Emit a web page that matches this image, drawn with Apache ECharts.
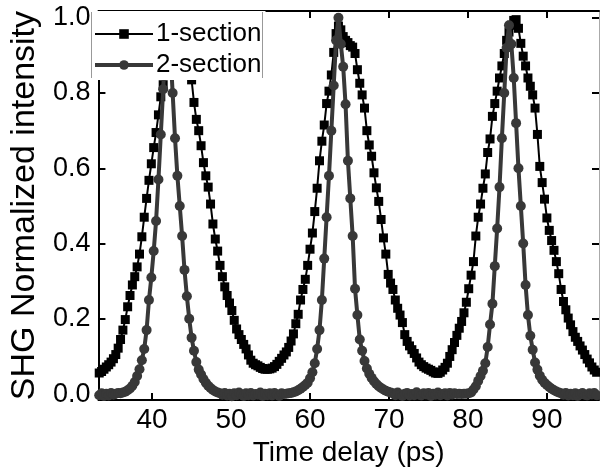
<!DOCTYPE html>
<html>
<head>
<meta charset="utf-8">
<script src="https://cdn.jsdelivr.net/npm/echarts@6/dist/echarts.min.js"></script>
<style>
html,body{margin:0;padding:0;background:#fff;}
#chart{width:600px;height:472px;}
</style>
</head>
<body>
<div id="chart"></div>
<script>
// Time delay (ps)
const timeDelay = [
33.3,33.6,33.9,34.2,34.5,34.8,35.1,35.4,35.7,36.0,
36.3,36.6,36.9,37.2,37.5,37.8,38.1,38.4,38.7,39.0,
39.3,39.6,39.9,40.2,40.5,40.8,41.1,41.4,41.7,42.0,
42.3,42.6,42.9,43.2,43.5,43.8,44.1,44.4,44.7,45.0,
45.3,45.6,45.9,46.2,46.5,46.8,47.1,47.4,47.7,48.0,
48.3,48.6,48.9,49.2,49.5,49.8,50.1,50.4,50.7,51.0,
51.3,51.6,51.9,52.2,52.5,52.8,53.1,53.4,53.7,54.0,
54.3,54.6,54.9,55.2,55.5,55.8,56.1,56.4,56.7,57.0,
57.3,57.6,57.9,58.2,58.5,58.8,59.1,59.4,59.7,60.0,
60.3,60.6,60.9,61.2,61.5,61.8,62.1,62.4,62.7,63.0,
63.3,63.6,63.9,64.2,64.5,64.8,65.1,65.4,65.7,66.0,
66.3,66.6,66.9,67.2,67.5,67.8,68.1,68.4,68.7,69.0,
69.3,69.6,69.9,70.2,70.5,70.8,71.1,71.4,71.7,72.0,
72.3,72.6,72.9,73.2,73.5,73.8,74.1,74.4,74.7,75.0,
75.3,75.6,75.9,76.2,76.5,76.8,77.1,77.4,77.7,78.0,
78.3,78.6,78.9,79.2,79.5,79.8,80.1,80.4,80.7,81.0,
81.3,81.6,81.9,82.2,82.5,82.8,83.1,83.4,83.7,84.0,
84.3,84.6,84.9,85.2,85.5,85.8,86.1,86.4,86.7,87.0,
87.3,87.6,87.9,88.2,88.5,88.8,89.1,89.4,89.7,90.0,
90.3,90.6,90.9,91.2,91.5,91.8,92.1,92.4,92.7,93.0,
93.3,93.6,93.9,94.2,94.5,94.8,95.1,95.4,95.7,96.0,
96.3
];

// 1-section SHG normalized intensity
const oneSection = [
0.056,0.060,0.066,0.072,0.078,0.085,0.094,0.105,0.122,0.145,
0.170,0.198,0.232,0.262,0.290,0.312,0.338,0.372,0.418,0.470,
0.520,0.568,0.612,0.655,0.695,0.742,0.790,0.822,0.865,0.905,
0.940,0.968,0.985,0.992,0.978,0.955,0.925,0.895,0.862,0.835,
0.775,0.730,0.700,0.660,0.615,0.580,0.550,0.505,0.452,0.412,
0.380,0.342,0.312,0.285,0.262,0.242,0.222,0.196,0.173,0.158,
0.145,0.132,0.120,0.104,0.090,0.082,0.078,0.075,0.071,0.068,
0.066,0.066,0.067,0.069,0.073,0.079,0.087,0.095,0.104,0.112,
0.124,0.141,0.160,0.187,0.212,0.250,0.278,0.305,0.342,0.385,
0.428,0.485,0.547,0.620,0.672,0.715,0.772,0.805,0.848,0.908,
0.958,0.978,0.968,0.950,0.940,0.934,0.926,0.922,0.905,0.862,
0.826,0.795,0.760,0.700,0.662,0.632,0.588,0.548,0.512,0.464,
0.415,0.372,0.318,0.295,0.278,0.250,0.228,0.210,0.190,0.158,
0.140,0.128,0.118,0.108,0.096,0.085,0.078,0.073,0.069,0.066,
0.063,0.059,0.056,0.055,0.058,0.064,0.071,0.082,0.100,0.118,
0.137,0.156,0.175,0.193,0.216,0.244,0.280,0.316,0.352,0.420,
0.470,0.505,0.547,0.585,0.642,0.678,0.738,0.772,0.805,0.840,
0.872,0.905,0.940,0.962,0.980,0.993,0.995,0.972,0.932,0.898,
0.872,0.840,0.818,0.795,0.760,0.690,0.605,0.562,0.518,0.468,
0.435,0.408,0.382,0.352,0.320,0.278,0.246,0.224,0.202,0.184,
0.166,0.151,0.140,0.128,0.117,0.105,0.093,0.083,0.072,0.064,
0.058
];

// 2-section SHG normalized intensity
const twoSection = [
-0.003,0.002,-0.005,0.001,-0.004,0.003,-0.002,
0.001,0.003,0.002,0.004,0.006,0.010,0.015,0.022,0.032,0.048,0.066,0.090,0.120,0.170,0.250,0.310,0.380,0.460,0.570,0.690,0.810,0.930,
1.000,
0.920,0.800,0.680,0.580,0.500,0.420,0.330,0.260,0.200,0.150,0.115,0.085,0.065,0.052,0.040,0.030,0.022,0.016,0.011,0.007,0.004,0.002,
-0.002,0.003,-0.004,0.001,-0.006,0.002,-0.003,0.004,-0.001,-0.005,0.002,-0.003,0.003,-0.004,0.000,-0.002,0.004,-0.005,0.001,-0.003,0.002,-0.004,0.003,-0.001,-0.005,0.002,0.000,
0.001,0.002,0.003,0.005,0.007,0.010,0.014,0.019,0.024,0.030,0.042,0.058,0.082,0.120,0.170,0.250,0.360,0.470,0.580,0.700,0.820,0.940,
1.000,
0.930,0.870,0.770,0.620,0.520,0.420,0.280,0.210,0.145,0.115,0.088,0.068,0.054,0.043,0.034,0.027,0.021,0.016,0.012,0.009,0.006,0.004,
0.002,-0.003,0.004,-0.002,-0.005,0.001,0.003,-0.004,0.000,-0.003,0.005,-0.002,-0.004,0.002,-0.001,0.003,-0.005,0.001,-0.002,0.004,-0.003,0.000,0.002,-0.004,0.003,-0.001,0.002,
0.000,0.001,0.000,0.001,0.001,0.002,0.004,0.012,0.021,0.035,0.048,0.062,0.082,0.125,0.185,0.240,0.340,0.440,0.550,0.680,0.800,0.920,
0.980,
0.930,0.840,0.720,0.600,0.500,0.400,0.290,0.210,0.155,0.118,0.084,0.065,0.049,0.038,0.030,0.024,0.019,0.014,0.010,0.007,0.004,0.002,
-0.002,0.003,-0.004,0.001,-0.003,0.002,-0.005,0.000,0.003,-0.002,-0.004,0.002,-0.001,0.003,-0.003
];

const seriesNames = ['1-section', '2-section'];
const xTicks = [40, 50, 60, 70, 80, 90];
const yTicks = [0.0, 0.2, 0.4, 0.6, 0.8, 1.0];

const FONT = 'Liberation Sans, Arial, sans-serif';
const pairs = ys => timeDelay.map((t, i) => [t, ys[i]]);

const chart = echarts.init(document.getElementById('chart'), null, {renderer: 'canvas'});

const xCommon = {
  type: 'value', min: 33.2, max: 96.6,
  splitLine: {show: false},
  axisLine: {onZero: false, lineStyle: {color: '#000', width: 2}},
  axisTick: {inside: true, length: 7, lineStyle: {color: '#000', width: 2}, customValues: xTicks},
};
const yCommon = {
  type: 'value', min: -0.016, max: 1.018,
  splitLine: {show: false},
  axisLine: {onZero: false, lineStyle: {color: '#000', width: 2}},
  axisTick: {inside: true, length: 7, lineStyle: {color: '#000', width: 2}, customValues: yTicks},
};

chart.setOption({
  animation: false,
  backgroundColor: '#fff',
  grid: {left: 86, right: 1, top: 11, bottom: 68, containLabel: false},
  xAxis: [
    Object.assign({}, xCommon, {
      position: 'bottom',
      axisLabel: {customValues: xTicks, fontSize: 28, color: '#000', fontFamily: FONT, margin: 6,
        formatter: v => String(Math.round(v))},
      name: 'Time delay (ps)', nameLocation: 'middle', nameGap: 34,
      nameTextStyle: {fontSize: 28, color: '#000', fontFamily: FONT}
    }),
    Object.assign({}, xCommon, {position: 'top', axisLabel: {show: false}})
  ],
  yAxis: [
    Object.assign({}, yCommon, {
      position: 'left',
      axisLabel: {customValues: yTicks, fontSize: 27, color: '#000', fontFamily: FONT, margin: 8,
        formatter: v => v.toFixed(1)},
      name: 'SHG Normalized intensity', nameLocation: 'middle', nameGap: 53,
      nameTextStyle: {fontSize: 34, color: '#000', fontFamily: FONT}
    }),
    Object.assign({}, yCommon, {
      position: 'right',
      axisLine: {onZero: false, lineStyle: {color: '#aaa', width: 1}},
      axisLabel: {show: false}
    })
  ],
  legend: {
    data: [
      {name: seriesNames[0], lineStyle: {width: 2, color: '#000'}},
      {name: seriesNames[1], lineStyle: {width: 4, color: '#383838'}}
    ],
    orient: 'vertical',
    left: 91, top: 11,
    padding: [10, 4, 2, 2],
    itemGap: 5,
    itemWidth: 58, itemHeight: 12,
    backgroundColor: '#fff',
    borderWidth: 0,
    textStyle: {fontSize: 26, color: '#000', fontFamily: FONT, padding: [0, 0, 0, -2]}
  },
  graphic: [
    {type: 'line', z: 100, shape: {x1: 91.5, y1: 12, x2: 91.5, y2: 78}, style: {stroke: '#999', lineWidth: 1}},
    {type: 'line', z: 100, shape: {x1: 262.5, y1: 12, x2: 262.5, y2: 78}, style: {stroke: '#999', lineWidth: 1}}
  ],
  series: [
    {
      name: seriesNames[0], type: 'line', data: pairs(oneSection),
      symbol: 'rect', symbolSize: 9, showAllSymbol: true,
      itemStyle: {color: '#000'},
      lineStyle: {color: '#000', width: 2},
      z: 2
    },
    {
      name: seriesNames[1], type: 'line', data: pairs(twoSection),
      symbol: 'circle', symbolSize: 10, showAllSymbol: true,
      itemStyle: {color: '#383838'},
      lineStyle: {color: '#383838', width: 4},
      z: 3
    }
  ]
});
</script>
</body>
</html>
